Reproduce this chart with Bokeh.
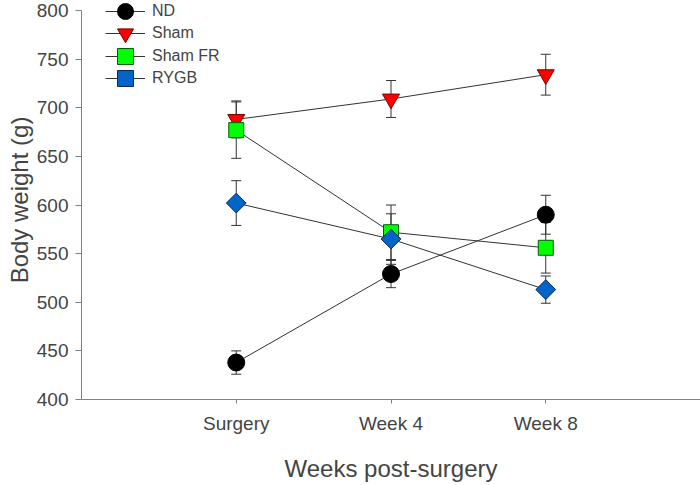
from bokeh.plotting import figure
from bokeh.models import (ColumnDataSource, Range1d, FixedTicker, Whisker, TeeHead,
                          Legend, LegendItem)
from bokeh.embed import file_html
from bokeh.resources import INLINE
import math

# ---- data ----
categories = ["Surgery", "Week 4", "Week 8"]
series_names = ["ND", "Sham", "Sham FR", "RYGB"]
nd_mean = [438, 529, 590]
nd_err = [12, 14, 20]
sham_mean = [688, 709, 734]
sham_err = [19, 19, 21]
shamfr_mean = [677, 572, 556]
shamfr_err = [29, 28, 26]
rygb_mean = [602, 565, 513]
rygb_err = [23, 26, 14]
y_ticks = [400, 450, 500, 550, 600, 650, 700, 750, 800]

FONT = "Liberation Sans"

x_pos = [i + 1 for i in range(len(categories))]

# frame runs to the top edge so the top legend row is not clipped; the
# axis line itself stops at 800 (bounds), 10px below the top of the picture
H, BOTTOM = 485, 86
px_per_unit = (H - BOTTOM - 10) / (y_ticks[-1] - y_ticks[0])
y_end = y_ticks[-1] + 10 / px_per_unit

p = figure(width=700, height=H, x_range=Range1d(0, len(categories) + 1),
           y_range=Range1d(y_ticks[0], y_end),
           output_backend="svg", toolbar_location=None,
           min_border_left=81, min_border_right=0, min_border_top=0,
           min_border_bottom=BOTTOM)
p.outline_line_color = None
p.xgrid.grid_line_color = None
p.ygrid.grid_line_color = None
p.background_fill_color = "white"
p.border_fill_color = "white"

AX = "#808080"
xa = p.xaxis[0]
xa.ticker = FixedTicker(ticks=x_pos)
xa.major_label_overrides = {x: c for x, c in zip(x_pos, categories)}
xa.minor_tick_line_color = None
xa.major_tick_in = 0
xa.major_tick_out = 4
xa.axis_line_color = AX
xa.major_tick_line_color = AX
xa.major_label_text_font = FONT
xa.major_label_text_font_size = "19px"
xa.major_label_standoff = 9
xa.axis_label = "Weeks post-surgery"
xa.axis_label_text_font = FONT
xa.axis_label_text_font_size = "24px"
xa.axis_label_text_font_style = "normal"
xa.axis_label_standoff = 18

ya = p.yaxis[0]
ya.ticker = FixedTicker(ticks=y_ticks)
ya.bounds = (y_ticks[0], y_ticks[-1])
ya.minor_tick_line_color = None
ya.major_tick_in = 0
ya.major_tick_out = 6
ya.axis_line_color = AX
ya.major_tick_line_color = AX
ya.major_label_text_font = FONT
ya.major_label_text_font_size = "19px"
ya.major_label_standoff = 7
ya.axis_label = "Body weight (g)"
ya.axis_label_text_font = FONT
ya.axis_label_text_font_size = "24px"
ya.axis_label_text_font_style = "normal"
ya.axis_label_standoff = 1

styles = [
    dict(marker="circle", size=17, fill="#000000", line="#000000", angle=0.0),
    dict(marker="inverted_triangle", size=17, fill="#FF0000", line="#7a0000", angle=0.0),
    dict(marker="square", size=15, fill="#00FF00", line="#006000", angle=0.0),
    dict(marker="square", size=14, fill="#0064C8", line="#0a2a55", angle=math.pi / 4),
]
means = [nd_mean, sham_mean, shamfr_mean, rygb_mean]
errs = [nd_err, sham_err, shamfr_err, rygb_err]

sources = []
for m, e in zip(means, errs):
    sources.append(ColumnDataSource(dict(
        x=x_pos, y=m,
        upper=[a + b for a, b in zip(m, e)],
        lower=[a - b for a, b in zip(m, e)])))

# error bars (below everything)
for src in sources:
    w = Whisker(source=src, base="x", upper="upper", lower="lower",
                dimension="height", line_color="#333333", line_width=1,
                level="underlay",
                upper_head=TeeHead(size=10, line_color="#333333", line_width=1),
                lower_head=TeeHead(size=10, line_color="#333333", line_width=1))
    p.add_layout(w)

line_rs = []
for src in sources:
    line_rs.append(p.line("x", "y", source=src, line_color="#333333", line_width=1))

# one small legend per row, so the legend markers stay large (40px glyph box)
# while rows remain 22-23px apart
row_bottoms = [368, 346, 323, 301]
for name, src, st, lr, yb in zip(series_names, sources, styles, line_rs, row_bottoms):
    sr = p.scatter("x", "y", source=src, marker=st["marker"], size=st["size"],
                   fill_color=st["fill"], line_color=st["line"], line_width=1,
                   angle=st["angle"])
    leg = Legend(items=[LegendItem(label=name, renderers=[lr, sr])],
                 location=(24, yb), orientation="vertical",
                 padding=0, margin=0, spacing=0, glyph_width=40, glyph_height=40,
                 label_height=20, label_standoff=7,
                 label_text_font=FONT, label_text_font_size="16px",
                 background_fill_alpha=0, border_line_alpha=0)
    p.add_layout(leg)

open("out.html", "w").write(file_html(p, INLINE))
